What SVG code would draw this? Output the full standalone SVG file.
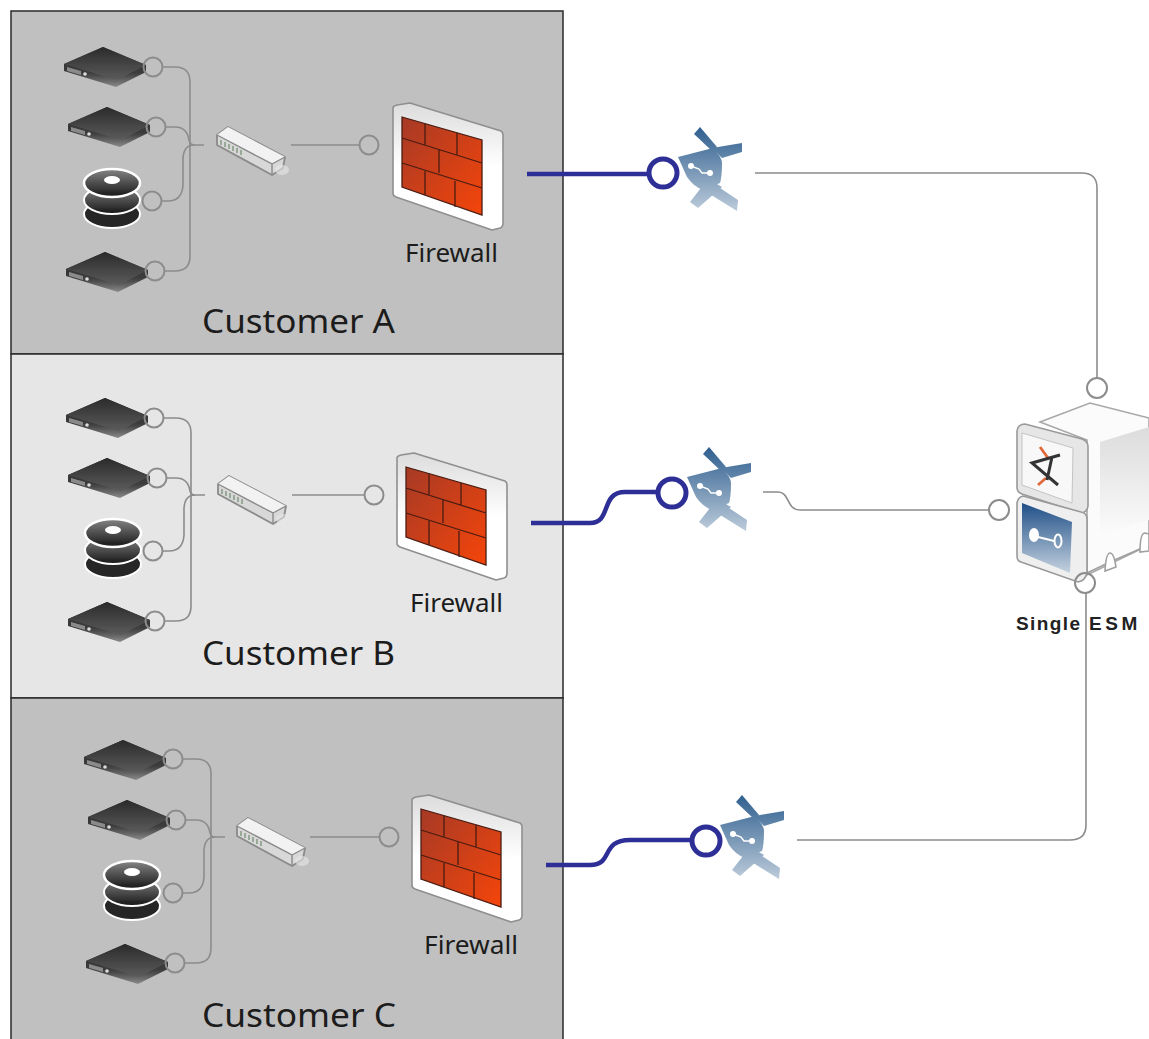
<svg xmlns="http://www.w3.org/2000/svg" width="1149" height="1039" viewBox="0 0 1149 1039">
<style>
.panel{stroke:#2a2a2a;stroke-width:1.5}
.lbl{font-family:"Noto Sans","DejaVu Sans",sans-serif;fill:#1c1c1c}
.cust{font-size:33px}
.fw{font-size:25px}
.gl{fill:none;stroke:#8c8c8c;stroke-width:1.6}
.port{fill:none;stroke:#8c8c8c;stroke-width:2}
.vp{fill:none;stroke:#2e2f96;stroke-width:4.5}
.vc{fill:#fff;stroke:#2e2f96;stroke-width:5}
.soft{filter:url(#soft)}
</style>
<defs>
<filter id="soft" x="-10%" y="-10%" width="120%" height="120%"><feGaussianBlur stdDeviation="0.6"/></filter>
<linearGradient id="sv" x1="0" y1="0" x2="0" y2="1"><stop offset="0" stop-color="#2a2a2a"/><stop offset="0.65" stop-color="#3c3c3c"/><stop offset="1" stop-color="#8a8a8a"/></linearGradient>
<linearGradient id="svt" x1="0" y1="0" x2="0" y2="1"><stop offset="0" stop-color="#2a2a2a"/><stop offset="1" stop-color="#5c5c5c"/></linearGradient>
<linearGradient id="dk" x1="0" y1="0" x2="0" y2="1"><stop offset="0" stop-color="#858585"/><stop offset="1" stop-color="#161616"/></linearGradient>
<linearGradient id="fr" x1="0" y1="0" x2="0" y2="1"><stop offset="0" stop-color="#dcdcdc"/><stop offset="0.5" stop-color="#fff"/><stop offset="1" stop-color="#fff"/></linearGradient>
<linearGradient id="br" x1="0" y1="0" x2="1" y2="1"><stop offset="0" stop-color="#a63a26"/><stop offset="1" stop-color="#f5450a"/></linearGradient>
<linearGradient id="vb" gradientUnits="userSpaceOnUse" x1="0" y1="0" x2="0" y2="84"><stop offset="0" stop-color="#2f5f8f"/><stop offset="1" stop-color="#bccbda"/></linearGradient>
<linearGradient id="blue" x1="0" y1="0" x2="0" y2="1"><stop offset="0" stop-color="#1f4f87"/><stop offset="1" stop-color="#c5d2e0"/></linearGradient>
<linearGradient id="side" x1="0" y1="0" x2="0" y2="1"><stop offset="0" stop-color="#dcdcdc"/><stop offset="1" stop-color="#fbfbfb"/></linearGradient>
<g id="server" class="soft">
<path d="M0 17 L39 0 L82 18 L82 25 L52 40 L0 24Z" fill="url(#sv)"/>
<path d="M0 17 L39 0 L82 18 L53 33Z" fill="url(#svt)"/>
<path d="M3 20 L17 24 V28 L3 24Z" fill="#8a8a8a"/>
<circle cx="21" cy="27" r="1.8" fill="#ddd"/>
</g>
<g id="disk" class="soft">
<ellipse cx="29" cy="44" rx="28" ry="14" fill="#262626" stroke="#fff" stroke-width="2"/>
<ellipse cx="29" cy="30" rx="28" ry="14" fill="url(#dk)" stroke="#fff" stroke-width="2"/>
<ellipse cx="29" cy="13" rx="28" ry="14" fill="url(#dk)" stroke="#fff" stroke-width="2.5"/>
<ellipse cx="29" cy="10" rx="8" ry="4" fill="#fff"/>
</g>
<g id="switch" class="soft">
<path d="M0 8 L11 0 L68 30 L66 41 L55 48 L0 18Z" fill="#d8d8d8" stroke="#8a8a8a" stroke-width="1.8" stroke-linejoin="round"/>
<path d="M0 8 L11 0 L68 30 L55 37Z" fill="#f2f2f2"/>
<path d="M0 8 L55 37 L55 48 M55 37 L68 30" fill="none" stroke="#8a8a8a" stroke-width="1.4"/>
<path d="M4 13 V18 M8 15 V20 M12 17 V22 M16 19 V24 M20 21 V26 M24 23 V28" stroke="#6e8a6e" stroke-width="1.2"/>
<ellipse cx="65" cy="43" rx="7" ry="5" fill="#e8e8e8" opacity="0.6"/>
</g>
<g id="firewall">
<path d="M0 5 Q0 3 4 2 L17 0 L108 28 Q110 29 110 32 V120 Q110 124 107 125 L99 127 L3 94 Q0 93 0 90Z" fill="url(#fr)" stroke="#8f8f8f" stroke-width="1.6" stroke-linejoin="round"/>
<path d="M9 14 L89 37 V112 L9 84Z" fill="url(#br)"/>
<path d="M9 35 L89 60 M9 60 L89 85 M32 21 V42 M64 30 V52 M46 47 V70 M32 68 V92 M62 78 V104 M9 14 L89 37 V112 L9 84Z" fill="none" stroke="#4a1c12" stroke-width="1.3"/>
</g>
<g id="vpn" class="soft">
<path d="M0 30 L35 21 Q44 30 44 36 Q44 50 42 56 L25 63 Q16 60 9 50Z" fill="url(#vb)"/>
<path d="M16 7 L22 0 L39 20 L34 24Z" fill="url(#vb)"/>
<path d="M34 21 L64 16 L64 25 L44 31Z" fill="url(#vb)"/>
<path d="M12 75 L20 81 L44 60 L30 52Z" fill="url(#vb)"/>
<path d="M42 61 L60 73 L59 84 L30 66 L26 60Z" fill="url(#vb)"/>
<circle cx="13" cy="39" r="3" fill="#fff"/><circle cx="32" cy="46" r="3" fill="#fff"/>
<path d="M13 39 L21 42 L24 46 L32 46" fill="none" stroke="#fff" stroke-width="1.4"/>
</g>
</defs>

<g id="customer-a"><rect class="panel" x="11" y="11" width="552" height="343" fill="#c0c0c0"/><text class="lbl cust" x="202" y="333" textLength="193" lengthAdjust="spacingAndGlyphs">Customer A</text></g>
<g id="customer-b"><rect class="panel" x="11" y="354" width="552" height="344" fill="#e6e6e6"/><text class="lbl cust" x="202" y="665" textLength="193" lengthAdjust="spacingAndGlyphs">Customer B</text></g>
<g id="customer-c"><rect class="panel" x="11" y="698" width="552" height="350" fill="#c0c0c0"/><text class="lbl cust" x="202" y="1027" textLength="194" lengthAdjust="spacingAndGlyphs">Customer C</text></g>

<g id="connectors">
<path class="gl" d="M163 67 H175 Q190 67 190 82 V256 Q190 271 175 271 H165"/>
<path class="gl" d="M166 127 H175 Q187 127 189 140 Q190 145 194 145 H204"/>
<path class="gl" d="M162 201 H168 Q182 201 183 185 V158 Q184 145 194 145"/>
<path class="gl" d="M291 145 H359"/>
<path class="gl" d="M164 418 H176 Q191 418 191 433 V606 Q191 621 176 621 H165"/>
<path class="gl" d="M167 478 H176 Q188 478 190 491 Q191 495 195 495 H205"/>
<path class="gl" d="M163 551 H169 Q183 551 184 535 V508 Q185 495 195 495"/>
<path class="gl" d="M292 495 H364"/>
<path class="gl" d="M183 759 H196 Q211 759 211 774 V948 Q211 963 196 963 H185"/>
<path class="gl" d="M186 820 H196 Q208 820 210 833 Q211 837 215 837 H225"/>
<path class="gl" d="M183 893 H189 Q203 893 204 877 V850 Q205 837 215 837"/>
<path class="gl" d="M310 837 H379"/>
<path class="gl" d="M755 173 H1082 Q1097 173 1097 188 V379"/>
<path class="gl" d="M763 492 H778 C790 492 786 510 800 510 H990"/>
<path class="gl" d="M797 840 H1070 Q1086 840 1086 825 V593"/>
<path class="vp" d="M527 174 H648"/>
<path class="vp" d="M531 523 H590 C612 523 600 492 625 492 H657"/>
<path class="vp" d="M546 865 H590 C614 865 600 840 630 840 H692"/>
</g>

<g id="server-a1"><use href="#server" x="64" y="47"/><circle class="port" cx="153" cy="67" r="9.5"/></g>
<g id="server-a2"><use href="#server" x="68" y="107"/><circle class="port" cx="156" cy="127" r="9.5"/></g>
<g id="disk-a"><use href="#disk" x="83" y="170"/><circle class="port" cx="152" cy="201" r="9.5"/></g>
<g id="server-a3"><use href="#server" x="66" y="252"/><circle class="port" cx="155" cy="271" r="9.5"/></g>
<g id="switch-a"><use href="#switch" x="217" y="127"/></g>
<g id="firewall-a"><use href="#firewall" x="393" y="103"/><circle class="port" cx="369" cy="145" r="9.5"/><text class="lbl fw" x="405" y="262" textLength="93" lengthAdjust="spacingAndGlyphs">Firewall</text></g>
<g id="vpn-a"><use href="#vpn" x="678" y="127"/><circle class="vc" cx="663" cy="173" r="14"/></g>

<g id="server-b1"><use href="#server" x="66" y="398"/><circle class="port" cx="154" cy="418" r="9.5"/></g>
<g id="server-b2"><use href="#server" x="68" y="458"/><circle class="port" cx="157" cy="478" r="9.5"/></g>
<g id="disk-b"><use href="#disk" x="84" y="520"/><circle class="port" cx="153" cy="551" r="9.5"/></g>
<g id="server-b3"><use href="#server" x="68" y="602"/><circle class="port" cx="155" cy="621" r="9.5"/></g>
<g id="switch-b"><use href="#switch" x="218" y="476"/></g>
<g id="firewall-b"><use href="#firewall" x="397" y="453"/><circle class="port" cx="374" cy="495" r="9.5"/><text class="lbl fw" x="410" y="612" textLength="93" lengthAdjust="spacingAndGlyphs">Firewall</text></g>
<g id="vpn-b"><use href="#vpn" x="687" y="447"/><circle class="vc" cx="672" cy="493" r="14"/></g>

<g id="server-c1"><use href="#server" x="84" y="740"/><circle class="port" cx="173" cy="759" r="9.5"/></g>
<g id="server-c2"><use href="#server" x="88" y="800"/><circle class="port" cx="176" cy="820" r="9.5"/></g>
<g id="disk-c"><use href="#disk" x="103" y="862"/><circle class="port" cx="173" cy="893" r="9.5"/></g>
<g id="server-c3"><use href="#server" x="86" y="944"/><circle class="port" cx="175" cy="963" r="9.5"/></g>
<g id="switch-c"><use href="#switch" x="237" y="818"/></g>
<g id="firewall-c"><use href="#firewall" x="412" y="795"/><circle class="port" cx="389" cy="837" r="9.5"/><text class="lbl fw" x="424" y="954" textLength="94" lengthAdjust="spacingAndGlyphs">Firewall</text></g>
<g id="vpn-c"><use href="#vpn" x="720" y="795"/><circle class="vc" cx="706" cy="841" r="14"/></g>

<g id="esm">
<path d="M1040 422 L1090 403 L1149 418 V545 L1087 575 V440Z" fill="#fbfbfb" stroke="#a8a8a8" stroke-width="1.6"/>
<path d="M1100 442 L1149 427 V520 L1100 535Z" fill="url(#side)"/>
<path d="M1087 573 L1110 562 L1149 545" fill="none" stroke="#a0a0a0" stroke-width="1.6"/>
<path d="M1105 571 Q1106 553 1110 553 Q1114 553 1116 567Z" fill="#fff" stroke="#a0a0a0" stroke-width="1.6"/>
<path d="M1140 552 Q1140 533 1145 533 L1149 534 V551Z" fill="#fff" stroke="#a0a0a0" stroke-width="1.6"/>
<path d="M1017 431 Q1018 424 1025 424 L1082 439 Q1088 441 1088 447 V506 Q1087 513 1080 513 L1022 494 Q1017 492 1017 488Z" fill="#e6e6e6" stroke="#999" stroke-width="1.6"/>
<path d="M1022 433 L1073 448 L1072 503 L1022 485Z" fill="#f8f8f8" stroke="#c4c4c4"/>
<path d="M1040 447 L1048 458 M1038 485 L1046 478" stroke="#e0683a" stroke-width="2.8" fill="none"/>
<path d="M1060 455 L1032 463 L1058 485 M1052 457 L1047 480" fill="none" stroke="#333" stroke-width="3"/>
<path d="M1017 503 Q1018 497 1023 496 L1081 512 Q1087 513 1087 519 V573 Q1085 581 1078 582 L1021 562 Q1017 561 1017 556Z" fill="#efefef" stroke="#999" stroke-width="1.6"/>
<path d="M1022 503 L1072 522 L1070 573 L1022 553Z" fill="url(#blue)"/>
<ellipse cx="1034" cy="535" rx="5" ry="7" fill="#fff"/>
<ellipse cx="1058" cy="541" rx="3.5" ry="6.5" fill="none" stroke="#fff" stroke-width="2"/>
<path d="M1038 537 L1054 541" stroke="#fff" stroke-width="2.2"/>
<circle class="port" cx="1097" cy="388" r="10"/>
<circle class="port" cx="999" cy="510" r="10"/>
<circle class="port" cx="1085" cy="583" r="10"/>
<text x="1016" y="630" font-family="'Liberation Sans',sans-serif" font-weight="bold" font-size="19" fill="#222"><tspan letter-spacing="1.4">Single</tspan><tspan x="1089" letter-spacing="3.6">ESM</tspan></text>
</g>
</svg>
